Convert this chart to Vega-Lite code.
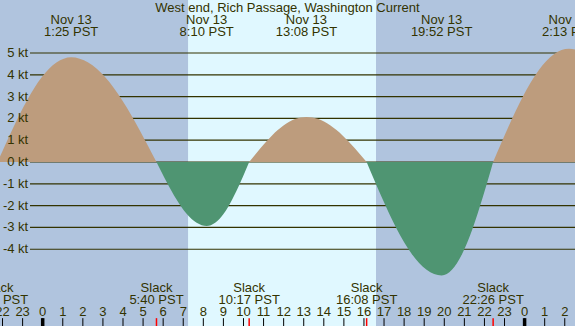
{
  "$schema": "https://vega.github.io/schema/vega-lite/v6.json",
  "width": 575,
  "height": 326,
  "autosize": {"type": "none"},
  "padding": 0,
  "background": "#b0c4de",
  "config": {"view": {"stroke": null}, "text": {"font": "Liberation Sans", "fontSize": 13, "color": "#333300"}},
  "resolve": {"scale": {"color": "independent"}},
  "datasets": {
    "bg": [
      {"t": -2.2, "t2": 7.24, "kind": "night"},
      {"t": 7.24, "t2": 16.6, "kind": "day"},
      {"t": 16.6, "t2": 26.6, "kind": "night"}
    ],
    "grid": [
      {"v": 5, "label": "5 kt"}, {"v": 4, "label": "4 kt"}, {"v": 3, "label": "3 kt"},
      {"v": 2, "label": "2 kt"}, {"v": 1, "label": "1 kt"}, {"v": 0, "label": "0 kt"},
      {"v": -1, "label": "-1 kt"}, {"v": -2, "label": "-2 kt"}, {"v": -3, "label": "-3 kt"},
      {"v": -4, "label": "-4 kt"}
    ],
    "curve": [
      {"t": -2.25, "v": 0, "seg": "A", "dir": "flood"},
      {"t": -1.883, "v": 0.751, "seg": "A", "dir": "flood"},
      {"t": -1.517, "v": 1.483, "seg": "A", "dir": "flood"},
      {"t": -1.15, "v": 2.179, "seg": "A", "dir": "flood"},
      {"t": -0.783, "v": 2.821, "seg": "A", "dir": "flood"},
      {"t": -0.417, "v": 3.394, "seg": "A", "dir": "flood"},
      {"t": -0.05, "v": 3.883, "seg": "A", "dir": "flood"},
      {"t": 0.317, "v": 4.277, "seg": "A", "dir": "flood"},
      {"t": 0.683, "v": 4.565, "seg": "A", "dir": "flood"},
      {"t": 1.05, "v": 4.741, "seg": "A", "dir": "flood"},
      {"t": 1.417, "v": 4.8, "seg": "A", "dir": "flood"},
      {"t": 1.842, "v": 4.741, "seg": "A", "dir": "flood"},
      {"t": 2.267, "v": 4.565, "seg": "A", "dir": "flood"},
      {"t": 2.692, "v": 4.277, "seg": "A", "dir": "flood"},
      {"t": 3.117, "v": 3.883, "seg": "A", "dir": "flood"},
      {"t": 3.542, "v": 3.394, "seg": "A", "dir": "flood"},
      {"t": 3.967, "v": 2.821, "seg": "A", "dir": "flood"},
      {"t": 4.392, "v": 2.179, "seg": "A", "dir": "flood"},
      {"t": 4.817, "v": 1.483, "seg": "A", "dir": "flood"},
      {"t": 5.242, "v": 0.751, "seg": "A", "dir": "flood"},
      {"t": 5.667, "v": 0, "seg": "A", "dir": "flood"},
      {"t": 5.667, "v": 0, "seg": "B", "dir": "ebb"},
      {"t": 5.917, "v": -0.458, "seg": "B", "dir": "ebb"},
      {"t": 6.167, "v": -0.905, "seg": "B", "dir": "ebb"},
      {"t": 6.417, "v": -1.33, "seg": "B", "dir": "ebb"},
      {"t": 6.667, "v": -1.722, "seg": "B", "dir": "ebb"},
      {"t": 6.917, "v": -2.072, "seg": "B", "dir": "ebb"},
      {"t": 7.167, "v": -2.37, "seg": "B", "dir": "ebb"},
      {"t": 7.417, "v": -2.611, "seg": "B", "dir": "ebb"},
      {"t": 7.667, "v": -2.787, "seg": "B", "dir": "ebb"},
      {"t": 7.917, "v": -2.894, "seg": "B", "dir": "ebb"},
      {"t": 8.167, "v": -2.93, "seg": "B", "dir": "ebb"},
      {"t": 8.378, "v": -2.894, "seg": "B", "dir": "ebb"},
      {"t": 8.59, "v": -2.787, "seg": "B", "dir": "ebb"},
      {"t": 8.802, "v": -2.611, "seg": "B", "dir": "ebb"},
      {"t": 9.013, "v": -2.37, "seg": "B", "dir": "ebb"},
      {"t": 9.225, "v": -2.072, "seg": "B", "dir": "ebb"},
      {"t": 9.437, "v": -1.722, "seg": "B", "dir": "ebb"},
      {"t": 9.648, "v": -1.33, "seg": "B", "dir": "ebb"},
      {"t": 9.86, "v": -0.905, "seg": "B", "dir": "ebb"},
      {"t": 10.072, "v": -0.458, "seg": "B", "dir": "ebb"},
      {"t": 10.283, "v": 0, "seg": "B", "dir": "ebb"},
      {"t": 10.283, "v": 0, "seg": "C", "dir": "flood"},
      {"t": 10.568, "v": 0.324, "seg": "C", "dir": "flood"},
      {"t": 10.853, "v": 0.64, "seg": "C", "dir": "flood"},
      {"t": 11.138, "v": 0.94, "seg": "C", "dir": "flood"},
      {"t": 11.423, "v": 1.217, "seg": "C", "dir": "flood"},
      {"t": 11.708, "v": 1.464, "seg": "C", "dir": "flood"},
      {"t": 11.993, "v": 1.675, "seg": "C", "dir": "flood"},
      {"t": 12.278, "v": 1.844, "seg": "C", "dir": "flood"},
      {"t": 12.563, "v": 1.969, "seg": "C", "dir": "flood"},
      {"t": 12.848, "v": 2.045, "seg": "C", "dir": "flood"},
      {"t": 13.133, "v": 2.07, "seg": "C", "dir": "flood"},
      {"t": 13.433, "v": 2.045, "seg": "C", "dir": "flood"},
      {"t": 13.733, "v": 1.969, "seg": "C", "dir": "flood"},
      {"t": 14.033, "v": 1.844, "seg": "C", "dir": "flood"},
      {"t": 14.333, "v": 1.675, "seg": "C", "dir": "flood"},
      {"t": 14.633, "v": 1.464, "seg": "C", "dir": "flood"},
      {"t": 14.933, "v": 1.217, "seg": "C", "dir": "flood"},
      {"t": 15.233, "v": 0.94, "seg": "C", "dir": "flood"},
      {"t": 15.533, "v": 0.64, "seg": "C", "dir": "flood"},
      {"t": 15.833, "v": 0.324, "seg": "C", "dir": "flood"},
      {"t": 16.133, "v": 0, "seg": "C", "dir": "flood"},
      {"t": 16.133, "v": 0, "seg": "D", "dir": "ebb"},
      {"t": 16.507, "v": -0.813, "seg": "D", "dir": "ebb"},
      {"t": 16.88, "v": -1.607, "seg": "D", "dir": "ebb"},
      {"t": 17.253, "v": -2.361, "seg": "D", "dir": "ebb"},
      {"t": 17.627, "v": -3.057, "seg": "D", "dir": "ebb"},
      {"t": 18.0, "v": -3.677, "seg": "D", "dir": "ebb"},
      {"t": 18.373, "v": -4.207, "seg": "D", "dir": "ebb"},
      {"t": 18.747, "v": -4.633, "seg": "D", "dir": "ebb"},
      {"t": 19.12, "v": -4.946, "seg": "D", "dir": "ebb"},
      {"t": 19.493, "v": -5.136, "seg": "D", "dir": "ebb"},
      {"t": 19.867, "v": -5.2, "seg": "D", "dir": "ebb"},
      {"t": 20.123, "v": -5.136, "seg": "D", "dir": "ebb"},
      {"t": 20.38, "v": -4.946, "seg": "D", "dir": "ebb"},
      {"t": 20.637, "v": -4.633, "seg": "D", "dir": "ebb"},
      {"t": 20.893, "v": -4.207, "seg": "D", "dir": "ebb"},
      {"t": 21.15, "v": -3.677, "seg": "D", "dir": "ebb"},
      {"t": 21.407, "v": -3.057, "seg": "D", "dir": "ebb"},
      {"t": 21.663, "v": -2.361, "seg": "D", "dir": "ebb"},
      {"t": 21.92, "v": -1.607, "seg": "D", "dir": "ebb"},
      {"t": 22.177, "v": -0.813, "seg": "D", "dir": "ebb"},
      {"t": 22.433, "v": 0, "seg": "D", "dir": "ebb"},
      {"t": 22.433, "v": 0, "seg": "E", "dir": "flood"},
      {"t": 22.812, "v": 0.813, "seg": "E", "dir": "flood"},
      {"t": 23.19, "v": 1.607, "seg": "E", "dir": "flood"},
      {"t": 23.568, "v": 2.361, "seg": "E", "dir": "flood"},
      {"t": 23.947, "v": 3.057, "seg": "E", "dir": "flood"},
      {"t": 24.325, "v": 3.677, "seg": "E", "dir": "flood"},
      {"t": 24.703, "v": 4.207, "seg": "E", "dir": "flood"},
      {"t": 25.082, "v": 4.633, "seg": "E", "dir": "flood"},
      {"t": 25.46, "v": 4.946, "seg": "E", "dir": "flood"},
      {"t": 25.838, "v": 5.136, "seg": "E", "dir": "flood"},
      {"t": 26.217, "v": 5.2, "seg": "E", "dir": "flood"},
      {"t": 26.617, "v": 5.136, "seg": "E", "dir": "flood"}
    ],
    "maxes": [
      {"t": 1.417, "date": "Nov 13", "time": "1:25 PST"},
      {"t": 8.167, "date": "Nov 13", "time": "8:10 PST"},
      {"t": 13.133, "date": "Nov 13", "time": "13:08 PST"},
      {"t": 19.867, "date": "Nov 13", "time": "19:52 PST"},
      {"t": 26.217, "date": "Nov 14", "time": "2:13 PST"}
    ],
    "slacks": [
      {"t": -2.25, "label": "Slack", "time": "21:45 PST"},
      {"t": 5.667, "label": "Slack", "time": "5:40 PST"},
      {"t": 10.283, "label": "Slack", "time": "10:17 PST"},
      {"t": 16.133, "label": "Slack", "time": "16:08 PST"},
      {"t": 22.433, "label": "Slack", "time": "22:26 PST"}
    ],
    "hours": [
      {"t": -2, "label": "22"}, {"t": -1, "label": "23"}, {"t": 0, "label": "0"},
      {"t": 1, "label": "1"}, {"t": 2, "label": "2"}, {"t": 3, "label": "3"},
      {"t": 4, "label": "4"}, {"t": 5, "label": "5"}, {"t": 6, "label": "6"},
      {"t": 7, "label": "7"}, {"t": 8, "label": "8"}, {"t": 9, "label": "9"},
      {"t": 10, "label": "10"}, {"t": 11, "label": "11"}, {"t": 12, "label": "12"},
      {"t": 13, "label": "13"}, {"t": 14, "label": "14"}, {"t": 15, "label": "15"},
      {"t": 16, "label": "16"}, {"t": 17, "label": "17"}, {"t": 18, "label": "18"},
      {"t": 19, "label": "19"}, {"t": 20, "label": "20"}, {"t": 21, "label": "21"},
      {"t": 22, "label": "22"}, {"t": 23, "label": "23"}, {"t": 24, "label": "0"},
      {"t": 25, "label": "1"}, {"t": 26, "label": "2"}
    ]
  },
  "layer": [
    {
      "data": {"name": "bg"},
      "mark": {"type": "rect", "clip": true},
      "encoding": {
        "x": {"field": "t", "type": "quantitative", "scale": {"domain": [-2.126, 26.51], "nice": false, "zero": false}, "axis": null},
        "x2": {"field": "t2"},
        "color": {"field": "kind", "type": "nominal", "scale": {"domain": ["night", "day"], "range": ["#b0c4de", "#e0f8ff"]}, "legend": null}
      }
    },
    {
      "data": {"name": "grid"},
      "mark": {"type": "rule", "color": "#333300", "strokeWidth": 1.2},
      "encoding": {
        "x": {"datum": -0.632, "type": "quantitative", "scale": {"domain": [-2.126, 26.51], "nice": false, "zero": false}, "axis": null},
        "x2": {"datum": 26.51},
        "y": {"field": "v", "type": "quantitative", "scale": {"domain": [-7.52, 7.43], "nice": false, "zero": false}, "axis": null}
      }
    },
    {
      "data": {"name": "curve"},
      "mark": {"type": "area", "interpolate": "monotone", "clip": true},
      "encoding": {
        "x": {"field": "t", "type": "quantitative"},
        "y": {"field": "v", "type": "quantitative", "stack": null},
        "y2": {"datum": 0},
        "detail": {"field": "seg"},
        "color": {"field": "dir", "type": "nominal", "scale": {"domain": ["flood", "ebb"], "range": ["#bd9c7d", "#4f9572"]}, "legend": null}
      }
    },
    {
      "data": {"name": "grid"},
      "mark": {"type": "text", "align": "right", "baseline": "middle"},
      "encoding": {
        "x": {"datum": -0.72, "type": "quantitative"},
        "y": {"field": "v", "type": "quantitative"},
        "text": {"field": "label"}
      }
    },
    {
      "data": {"name": "maxes"},
      "mark": {"type": "text", "baseline": "middle"},
      "encoding": {"x": {"field": "t", "type": "quantitative"}, "y": {"datum": 6.51, "type": "quantitative"}, "text": {"field": "date"}}
    },
    {
      "data": {"name": "maxes"},
      "mark": {"type": "text", "baseline": "middle"},
      "encoding": {"x": {"field": "t", "type": "quantitative"}, "y": {"datum": 5.96, "type": "quantitative"}, "text": {"field": "time"}}
    },
    {
      "data": {"name": "slacks"},
      "mark": {"type": "text", "baseline": "middle"},
      "encoding": {"x": {"field": "t", "type": "quantitative"}, "y": {"datum": -5.76, "type": "quantitative"}, "text": {"field": "label"}}
    },
    {
      "data": {"name": "slacks"},
      "mark": {"type": "text", "baseline": "middle"},
      "encoding": {"x": {"field": "t", "type": "quantitative"}, "y": {"datum": -6.31, "type": "quantitative"}, "text": {"field": "time"}}
    },
    {
      "data": {"name": "hours"},
      "mark": {"type": "text", "baseline": "middle"},
      "encoding": {"x": {"field": "t", "type": "quantitative"}, "y": {"datum": -6.88, "type": "quantitative"}, "text": {"field": "label"}}
    },
    {
      "data": {"name": "hours"},
      "mark": {"type": "rule", "color": "#000000", "strokeWidth": 1},
      "encoding": {"x": {"field": "t", "type": "quantitative"}, "y": {"datum": -7.16, "type": "quantitative"}, "y2": {"datum": -7.52}}
    },
    {
      "data": {"name": "hours"},
      "transform": [{"filter": "datum.label == '0'"}],
      "mark": {"type": "rule", "color": "#000000", "strokeWidth": 3.5},
      "encoding": {"x": {"field": "t", "type": "quantitative"}, "y": {"datum": -7.16, "type": "quantitative"}, "y2": {"datum": -7.52}}
    },
    {
      "data": {"name": "slacks"},
      "mark": {"type": "rule", "color": "#ff0000", "strokeWidth": 1.5},
      "encoding": {"x": {"field": "t", "type": "quantitative"}, "y": {"datum": -7.16, "type": "quantitative"}, "y2": {"datum": -7.52}}
    },
    {
      "data": {"values": [{"title": "West end, Rich Passage, Washington Current"}]},
      "mark": {"type": "text", "baseline": "middle"},
      "encoding": {"x": {"datum": 12.19, "type": "quantitative"}, "y": {"datum": 7.06, "type": "quantitative"}, "text": {"field": "title"}}
    }
  ]
}
